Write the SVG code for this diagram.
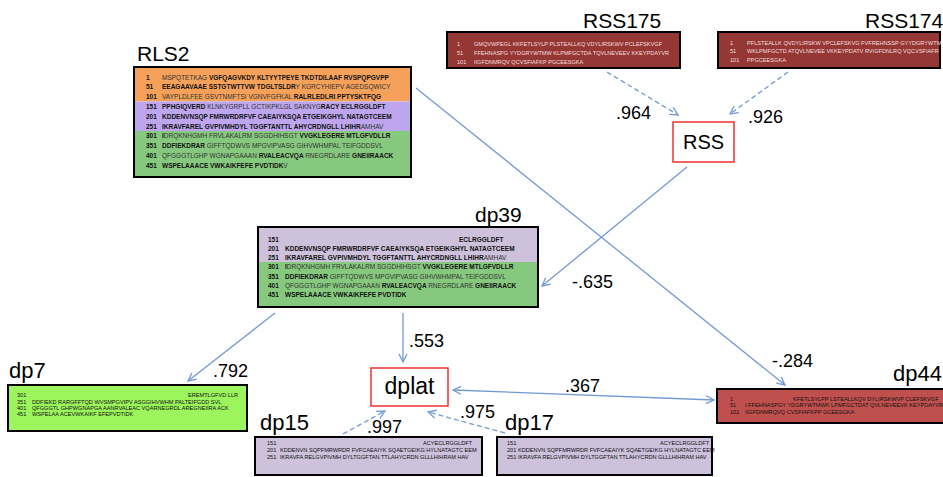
<svg xmlns="http://www.w3.org/2000/svg" width="943" height="477" viewBox="0 0 943 477">
<style>
.lbl{font-family:"Liberation Sans",Arial,sans-serif;font-size:21px;fill:#000}
.el{font-family:"Liberation Sans",Arial,sans-serif;font-size:18px;fill:#000}
.sq{font-family:"Liberation Sans",Arial,sans-serif;font-size:6.5px;font-weight:bold;fill:#111}
.sq .lt{font-weight:normal;fill:#333}
.sm{font-family:"Liberation Sans",Arial,sans-serif;font-size:5.6px;fill:#111}
.smw{font-family:"Liberation Sans",Arial,sans-serif;font-size:5.6px;fill:#f6dede}
.box{fill:none;stroke:#000;stroke-width:2}
.con{fill:none;stroke:#7399d2;stroke-width:1.3}
.dash{stroke-dasharray:5,3}
.redbox{fill:#fff;stroke:#ee3030;stroke-width:1.5}
</style>
<defs>
<marker id="ah" viewBox="0 0 10 10" refX="9" refY="5" markerWidth="10" markerHeight="10" markerUnits="userSpaceOnUse" orient="auto-start-reverse">
<path d="M1,1 L9,5 L1,9" fill="none" stroke="#7399d2" stroke-width="1.3"/>
</marker>
</defs>
<rect width="943" height="477" fill="#fff"/>

<g id="connectors">
<path class="con dash" d="M607,72 L678,115" marker-end="url(#ah)"/>
<path class="con dash" d="M788,72 L730,114" marker-end="url(#ah)"/>
<path class="con" d="M416,88 L785,385" marker-end="url(#ah)"/>
<path class="con" d="M687,167 L542,286" marker-end="url(#ah)"/>
<path class="con" d="M403,313 L403,362" marker-end="url(#ah)"/>
<path class="con" d="M275,313 L188,381" marker-end="url(#ah)"/>
<path class="con" d="M453,390 L714,400" marker-start="url(#ah)" marker-end="url(#ah)"/>
<path class="con dash" d="M343,434 L385,411" marker-end="url(#ah)"/>
<path class="con dash" d="M505,433 L428,412" marker-end="url(#ah)"/>
<text class="el" x="616" y="119">.964</text>
<text class="el" x="748" y="123">.926</text>
<text class="el" x="572" y="288">-.635</text>
<text class="el" x="409" y="347">.553</text>
<text class="el" x="213" y="377">.792</text>
<text class="el" x="565" y="392">.367</text>
<text class="el" x="772" y="367">-.284</text>
<text class="el" x="367" y="433">.997</text>
<text class="el" x="460" y="418">.975</text>
</g>

<g id="RLS2">
<text class="lbl" x="137" y="61">RLS2</text>
<rect x="135" y="68" width="275" height="33.5" fill="#f6a15a"/>
<rect x="135" y="101.5" width="275" height="29.5" fill="#bea6ee"/>
<rect x="135" y="131" width="275" height="45" fill="#86c97e"/>
<rect class="box" x="134" y="67" width="277" height="110"/>
<g class="sq">
<text x="146" y="79.5">1</text>
<text x="146" y="89.3">51</text>
<text x="146" y="99.1">101</text>
<text x="146" y="108.9">151</text>
<text x="146" y="118.7">201</text>
<text x="146" y="128.5">251</text>
<text x="146" y="138.3">301</text>
<text x="146" y="148.1">351</text>
<text x="146" y="157.9">401</text>
<text x="146" y="167.7">451</text>
<text x="162" y="79.5"><tspan class="lt">MSPQTETKAG</tspan> VGFQAGVKDY KLTYYTPEYE TKDTDILAAF RVSPQPGVPP</text>
<text x="162" y="89.3">EEAGAAVAAE SSTGTWTTVW TDGLTSLDR<tspan class="lt">Y KGRCYHIEPV AGEDSQWICY</tspan></text>
<text x="162" y="99.1"><tspan class="lt">VAYPLDLFEE GSVTNMFTSI VGNVFGFKAL </tspan>RALRLEDLRI PPTYSKTFQG</text>
<text x="162" y="108.9">PPHGIQVERD <tspan class="lt">KLNKYGRPLL GCTIKPKLGL SAKNYG</tspan>RACY ECLRGGLDFT</text>
<text x="162" y="118.7">KDDENVNSQP FMRWRDRFVF CAEAIYKSQA ETGEIKGHYL NATAGTCEEM</text>
<text x="162" y="128.5">IKRAVFAREL GVPIVMHDYL TGGFTANTTL AHYCRDNGLL LHIHR<tspan class="lt">AMHAV</tspan></text>
<text x="162" y="138.3">I<tspan class="lt">DRQKNHGMH FRVLAKALRM SGGDHIHSGT </tspan>VVGKLEGERE MTLGFVDLLR</text>
<text x="162" y="148.1">DDFIEKDRAR <tspan class="lt">GIFFTQDWVS MPGVIPVASG GIHVWHMPAL TEIFGDDSVL</tspan></text>
<text x="162" y="157.9"><tspan class="lt">QFGGGTLGHP WGNAPGAAAN </tspan>RVALEACVQA <tspan class="lt">RNEGRDLARE </tspan>GNEIIRAACK</text>
<text x="162" y="167.7">WSPELAAACE VWKAIKFEFE PVDTIDK<tspan class="lt">V</tspan></text>
</g>
</g>

<g id="RSS175">
<text class="lbl" x="583" y="28">RSS175</text>
<rect x="447" y="32" width="233" height="36" fill="#953735" stroke="#000" stroke-width="2"/>
<g class="smw">
<text x="457" y="46.3">1</text>
<text x="457" y="55.3">51</text>
<text x="457" y="64.3">101</text>
<text x="474" y="46.3">GMQVWPEGL KKFETLSYLP PLSTEALLKQ VDYLIRSKWV PCLEFSKVGF</text>
<text x="474" y="55.3">FFEHNASPG YYDGRYWTMW KLPMFGCTDA TQVLNEVEEV KKEYPDAYVR</text>
<text x="474" y="64.3">IIGFDNMRQV QCVSFIAFKP PGCEESGKA</text>
</g>
</g>

<g id="RSS174">
<text class="lbl" x="865" y="28">RSS174</text>
<rect x="718" y="32" width="222" height="36" fill="#953735" stroke="#000" stroke-width="2"/>
<g class="smw">
<text x="730" y="44.7">1</text>
<text x="730" y="53.3">51</text>
<text x="730" y="61.8">101</text>
<text x="747" y="44.7">PFLSTEALLK QVDYLIRSKW VPCLEFSKVG FVFREHNSSP GYYDGRYWTM</text>
<text x="747" y="53.3">WKLPMFGCTD ATQVLNEVEE VKKEYPDATV RVIGFDNLRQ VQCVSFIAFR</text>
<text x="747" y="61.8">PPGCEESGKA</text>
</g>
</g>

<g id="RSS">
<rect class="redbox" x="673" y="122" width="61" height="40"/>
<text class="lbl" x="703.5" y="149" text-anchor="middle" style="font-size:20px">RSS</text>
</g>

<g id="dp39">
<text class="lbl" x="475" y="222">dp39</text>
<rect x="259" y="228" width="278" height="34" fill="#cdc1dc"/>
<rect x="259" y="262" width="278" height="44" fill="#86c97e"/>
<rect class="box" x="258" y="227" width="280" height="80"/>
<g class="sq">
<text x="268" y="241.8">151</text>
<text x="268" y="251">201</text>
<text x="268" y="260.2">251</text>
<text x="268" y="269.4">301</text>
<text x="268" y="278.6">351</text>
<text x="268" y="287.8">401</text>
<text x="268" y="297">451</text>
<text x="459" y="241.8">ECLRGGLDFT</text>
<text x="285" y="251">KDDENVNSQP FMRWRDRFVF CAEAIYKSQA ETGEIKGHYL NATAGTCEEM</text>
<text x="285" y="260.2">IKRAVFAREL GVPIVMHDYL TGGFTANTTL AHYCRDNGLL LHIHR<tspan class="lt">AMHAV</tspan></text>
<text x="285" y="269.4">I<tspan class="lt">DRQKNHGMH FRVLAKALRM SGGDHIHSGT </tspan>VVGKLEGERE MTLGFVDLLR</text>
<text x="285" y="278.6">DDFIEKDRAR <tspan class="lt">GIFFTQDWVS MPGVIPVASG GIHVWHMPAL TEIFGDDSVL</tspan></text>
<text x="285" y="287.8"><tspan class="lt">QFGGGTLGHP WGNAPGAAAN </tspan>RVALEACVQA <tspan class="lt">RNEGRDLARE </tspan>GNEIIRAACK</text>
<text x="285" y="297">WSPELAAACE VWKAIKFEFE PVDTIDK</text>
</g>
</g>

<g id="dp7">
<text class="lbl" x="9" y="378" style="font-size:22px">dp7</text>
<rect x="8" y="385" width="239" height="46" fill="#9cf55c" stroke="#000" stroke-width="2"/>
<g class="sm">
<text x="17" y="397">301</text>
<text x="17" y="403.7">351</text>
<text x="17" y="410.3">401</text>
<text x="17" y="416.3">451</text>
<text x="188" y="397">EREMTLGFVD LLR</text>
<text x="32" y="403.7">DDFIEKD RARGFFTQD WVSMPGVIPV ASGGIHVWHM PALTEIFGDD SVL</text>
<text x="32" y="410.3">QFGGGTL GHPWGNAPGA AANRVALEAC VQARNEGRDL AREGNEIIRA ACK</text>
<text x="32" y="416.3">WSPELAA ACEVWKAIKF EFEPVDTIDK</text>
</g>
</g>

<g id="dplat">
<rect class="redbox" x="371" y="368" width="77" height="38"/>
<text class="lbl" x="409.5" y="394" text-anchor="middle" style="font-size:23px">dplat</text>
</g>

<g id="dp44">
<text class="lbl" x="893" y="381" style="font-size:22px">dp44</text>
<rect x="717" y="389" width="228" height="34" fill="#c0504d" stroke="#000" stroke-width="2"/>
<g class="sm">
<text x="730" y="401">1</text>
<text x="730" y="407.3">51</text>
<text x="730" y="413.7">101</text>
<text x="793" y="401">KFETLSYLPP LSTEALLKQV DYLIRSKWVP CLEFSKVGF</text>
<text x="745" y="407.3">I FFEHNASPGY YDGRYWTMWK LPMFGCTDAT QVLNEVEEVK KEYPDAYVR</text>
<text x="745" y="413.7">IIGFDNMRQVQ CVSFIAFKPP GCEESGKA</text>
</g>
</g>

<g id="dp15">
<text class="lbl" x="260" y="430" style="font-size:22px">dp15</text>
<rect x="255" y="437" width="227" height="38" fill="#cdc1dc" stroke="#000" stroke-width="2"/>
<g class="sm">
<text x="267" y="445">151</text>
<text x="267" y="452">201</text>
<text x="267" y="458.5">251</text>
<text x="423" y="445">ACYECLRGGLDFT</text>
<text x="280" y="452">KDDENVN SQPFMRWRDR FVFCAEAIYK SQAETGEIKG HYLNATAGTC EEM</text>
<text x="280" y="458.5">IKRAVFA RELGVPIVMH DYLTGGFTAN TTLAHYCRDN GLLLHIHRAM HAV</text>
</g>
</g>

<g id="dp17">
<text class="lbl" x="505" y="430" style="font-size:22px">dp17</text>
<rect x="497" y="437" width="215" height="38" fill="#cdc1dc" stroke="#000" stroke-width="2"/>
<g class="sm">
<text x="507" y="445">151</text>
<text x="507" y="452">201</text>
<text x="507" y="458.5">251</text>
<text x="660" y="445">ACYECLRGGLDFT</text>
<text x="518" y="452">KDDENVN SQPFMRWRDR FVFCAEAIYK SQAETGEIKG HYLNATAGTC EEM</text>
<text x="518" y="458.5">IKRAVFA RELGVPIVMH DYLTGGFTAN TTLAHYCRDN GLLLHIHRAM HAV</text>
</g>
</g>
</svg>
